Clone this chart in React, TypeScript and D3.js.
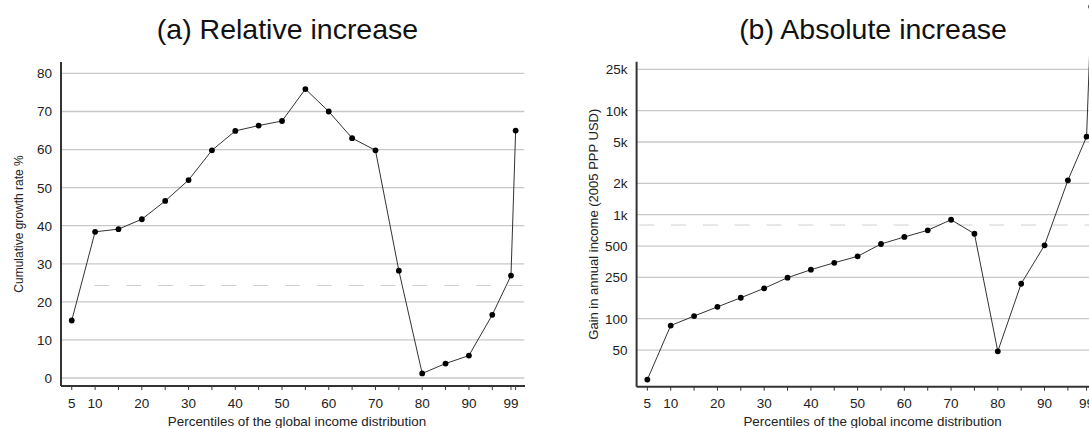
import React from "react";
import * as d3 from "d3";

const percentiles = [5, 10, 15, 20, 25, 30, 35, 40, 45, 50, 55, 60, 65, 70, 75, 80, 85, 90, 95, 99, 100];
const relativeGrowth = [15.1, 38.4, 39.1, 41.7, 46.5, 52.0, 59.8, 64.9, 66.3, 67.5, 75.9, 70.0, 63.0, 59.8, 28.2, 1.2, 3.8, 5.9, 16.6, 26.9, 65.0];
const absoluteGain = [26, 86, 106, 130, 159, 196, 248, 296, 345, 398, 523, 611, 708, 895, 656, 48.6, 217, 508, 2142, 5623, 100000];
const xTickMarks = [5, 10, 15, 20, 25, 30, 35, 40, 45, 50, 55, 60, 65, 70, 75, 80, 85, 90, 95, 99, 100];
const xTickLabels = [5, 10, 20, 30, 40, 50, 60, 70, 80, 90, 99];
const relTicks = [0, 10, 20, 30, 40, 50, 60, 70, 80];
const absTicks = [50, 100, 250, 500, 1000, 2000, 5000, 10000, 25000];
const absTickLabels = ["50", "100", "250", "500", "1k", "2k", "5k", "10k", "25k"];
const relReference = 24.3;
const absReference = 796;
const titles = ["(a) Relative increase", "(b) Absolute increase"];
const yTitles = ["Cumulative growth rate %", "Gain in annual income (2005 PPP USD)"];
const xTitle = "Percentiles of the global income distribution";

const FONT = "'Liberation Sans', Arial, Helvetica, sans-serif";

type PanelProps = {
  x0: number;
  yScale: (v: number) => number;
  ticks: number[];
  tickLabels: string[];
  values: number[];
  reference: number;
  refStart: number;
  title: string;
  titleX: number;
  yTitle: string;
  yTitleSize: number;
  bottom: number;
  top: number;
};

function Panel(p: PanelProps) {
  const x = d3.scaleLinear().domain([2.7, 102]).range([p.x0, p.x0 + 464]);
  const left = p.x0;
  const right = p.x0 + 464;
  const line = d3
    .line<number>()
    .x((_, i) => x(percentiles[i]))
    .y((d) => p.yScale(d));
  const yMid = (p.top + p.bottom) / 2;
  return (
    <g>
      <text x={p.titleX} y={39} textAnchor="middle" fontSize={28.5} fill="#111" fontFamily={FONT}>
        {p.title}
      </text>
      {p.ticks.map((t, i) => (
        <g key={t}>
          <line x1={left} x2={right - 0.7} y1={p.yScale(t)} y2={p.yScale(t)} stroke="#c8c8c8" strokeWidth={1.3} />
          <text x={left - 9} y={p.yScale(t)} dy="0.36em" textAnchor="end" fontSize={13.5} fill="#222" fontFamily={FONT}>
            {p.tickLabels[i]}
          </text>
        </g>
      ))}
      <line
        x1={p.refStart}
        x2={right}
        y1={p.yScale(p.reference)}
        y2={p.yScale(p.reference)}
        stroke="#cfcfcf"
        strokeWidth={1}
        strokeDasharray="15,16.8"
      />
      <line x1={left} x2={left} y1={p.top} y2={p.bottom} stroke="#333" strokeWidth={2} />
      <line x1={left} x2={right} y1={p.bottom} y2={p.bottom} stroke="#333" strokeWidth={2} />
      {xTickMarks.map((t) => (
        <line key={t} x1={x(t)} x2={x(t)} y1={p.bottom} y2={p.bottom + 4} stroke="#333" strokeWidth={1} />
      ))}
      {xTickLabels.map((t) => (
        <text key={t} x={x(t)} y={407.5} textAnchor="middle" fontSize={13.5} fill="#222" fontFamily={FONT}>
          {t}
        </text>
      ))}
      <text x={left + 236} y={426} textAnchor="middle" fontSize={13.4} fill="#222" fontFamily={FONT}>
        {xTitle}
      </text>
      <text
        transform={`translate(${left - 42.7},${yMid}) rotate(-90)`}
        dy="0.35em"
        textAnchor="middle"
        fontSize={p.yTitleSize}
        fill="#222"
        fontFamily={FONT}
      >
        {p.yTitle}
      </text>
      <path d={line(p.values) || ""} fill="none" stroke="#333" strokeWidth={1} />
      {p.values.map((v, i) => (
        <circle key={i} cx={x(percentiles[i])} cy={p.yScale(v)} r={2.9} fill="#000" />
      ))}
    </g>
  );
}

export default function App() {
  const relY = d3.scaleLinear().domain([-2.1, 83]).range([386, 62]);
  const absY = d3.scaleLog().domain([22.2, 29600]).range([386.7, 61.7]);
  return (
    <svg
      width={1089}
      height={428}
      style={{ position: "absolute", left: 0, top: 0, display: "block", background: "#fff" }}
    >
      <Panel
        x0={61}
        yScale={relY}
        ticks={relTicks}
        tickLabels={relTicks.map(String)}
        values={relativeGrowth}
        reference={relReference}
        refStart={94.3}
        title={titles[0]}
        titleX={287.5}
        yTitle={yTitles[0]}
        yTitleSize={12}
        bottom={386}
        top={62}
      />
      <Panel
        x0={636.6}
        yScale={absY}
        ticks={absTicks}
        tickLabels={absTickLabels}
        values={absoluteGain}
        reference={absReference}
        refStart={639.3}
        title={titles[1]}
        titleX={873}
        yTitle={yTitles[1]}
        yTitleSize={13}
        bottom={386.7}
        top={61.7}
      />
    </svg>
  );
}
